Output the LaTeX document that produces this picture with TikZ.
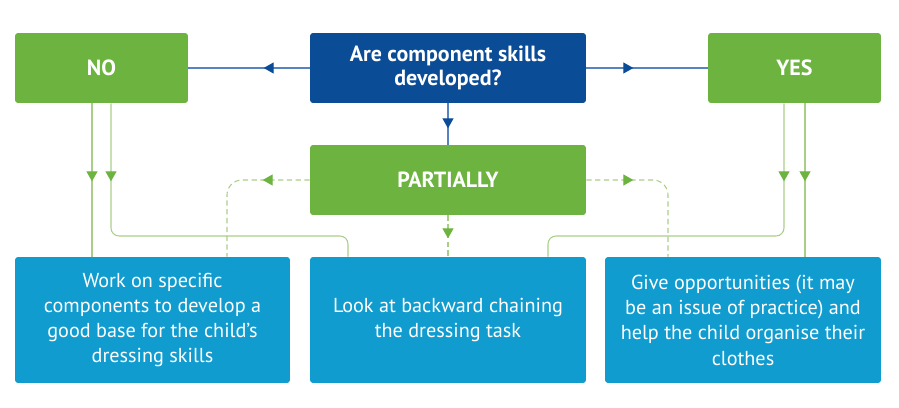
\documentclass[tikz,border=0pt]{standalone}
\usepackage{fontspec}
\setmainfont{PT Sans}
\usetikzlibrary{arrows.meta,decorations.markings}
\definecolor{dsgreen}{HTML}{6CB33F}
\definecolor{dsnavy}{HTML}{0B4C97}
\definecolor{dssky}{HTML}{119CCF}
\definecolor{dslink}{HTML}{A9CE88}
\definecolor{dsline}{HTML}{5584C0}
\tikzset{
  bx/.style={rounded corners=0.6mm, align=center, text=white, inner sep=2pt},
  ans/.style={bx, fill=dsgreen, minimum width=3.46cm, minimum height=1.4cm, font=\bfseries\fontsize{12.5}{14}\selectfont},
  qst/.style={bx, fill=dsnavy, minimum width=5.52cm, minimum height=1.4cm, font=\bfseries\fontsize{12.5}{14}\selectfont},
  act/.style={bx, fill=dssky, minimum width=5.5cm, minimum height=2.52cm, font=\fontsize{11.5}{14.4}\selectfont},
  tip/.style 2 args={postaction={decorate}, decoration={markings,
      mark=at position #1 with {\arrow[#2]{Triangle[length=2mm,width=2.2mm]}}}},
  qln/.style={draw=dsline, line width=0.6pt},
  gln/.style={draw=dslink, line width=0.6pt},
  dln/.style={gln, dash pattern=on 3pt off 2pt},
}
\begin{document}
\begin{tikzpicture}[x=0.02cm, y=-0.02cm]
  \useasboundingbox (0,0) rectangle (899,408);
  % boxes
  \node[ans] (no) at (101.5,68) {NO};
  \node[qst] (q) at (448,68) {Are component skills\\developed?};
  \node[ans] (yes) at (794.5,68) {YES};
  \node[ans, minimum width=5.52cm] (pt) at (448,180) {PARTIALLY};
  \node[act] (wk) at (152.5,320) {Work on specific\\components to develop a\\good base for the child’s\\dressing skills};
  \node[act, minimum width=5.52cm] (bc) at (448,320) {Look at backward chaining\\the dressing task};
  \node[act, minimum width=5.52cm] (go) at (743,320) {Give opportunities (it may\\be an issue of practice) and\\help the child organise their\\clothes};
  % question
  \draw[qln, tip={0.92cm}{dsnavy}] (q.west) -- (no.east);
  \draw[qln, tip={0.94cm}{dsnavy}] (q.east) -- (yes.west);
  \draw[qln, tip={0.5cm}{dsnavy}] (q.south) -- (pt.north);
  % no / yes
  \draw[gln, tip={1.56cm}{dsgreen}] (no.south -| 92,0) -- (wk.north -| 92,0);
  \draw[gln, rounded corners=1.6mm, tip={1.56cm}{dsgreen}] (no.south -| 111,0) |- (348,236) -- (bc.north -| 348,0);
  \draw[gln, tip={1.56cm}{dsgreen}] (yes.south -| 805,0) -- (go.north -| 805,0);
  \draw[gln, rounded corners=1.6mm, tip={1.56cm}{dsgreen}] (yes.south -| 784,0) |- (548,236) -- (bc.north -| 548,0);
  % partially
  \draw[dln, rounded corners=3mm, tip={0.94cm}{dsgreen}] (pt.west) -| (wk.north -| 227,0);
  \draw[dln, rounded corners=3mm, tip={0.94cm}{dsgreen}] (pt.east) -| (go.north -| 668,0);
  \draw[dln, tip={0.46cm}{dsgreen}] (pt.south) -- (bc.north);
\end{tikzpicture}
\end{document}
